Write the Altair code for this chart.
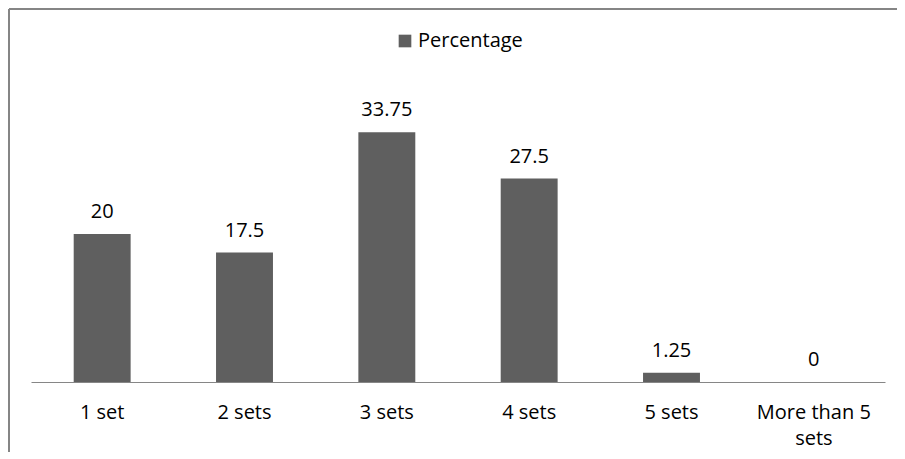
import altair as alt
import pandas as pd

categories = ["1 set", "2 sets", "3 sets", "4 sets", "5 sets", "More than 5 sets"]
percentages = [20, 17.5, 33.75, 27.5, 1.25, 0]
series_name = "Percentage"

df = pd.DataFrame({
    "category": categories,
    "value": percentages,
    "series": [series_name] * len(categories),
})

FONT = "Open Sans"
BAR = "#5f5f5f"

x_enc = alt.X(
    "category:N",
    sort=categories,
    scale=alt.Scale(paddingInner=0.6, paddingOuter=0.3),
    axis=alt.Axis(
        title=None,
        labelAngle=0,
        ticks=False,
        domainColor="#868686",
        domainWidth=1,
        labelFont=FONT,
        labelFontSize=20,
        labelColor="#000000",
        labelBaseline="alphabetic",
        labelPadding=36,
        labelLineHeight=26,
        labelLimit=300,
        labelExpr="datum.label == 'More than 5 sets' ? ['More than 5', 'sets'] : datum.label",
    ),
)
y_enc = alt.Y("value:Q", scale=alt.Scale(domain=[0, 40]), axis=None)

bars = alt.Chart(df).mark_bar().encode(
    x=x_enc,
    y=y_enc,
    color=alt.Color(
        "series:N",
        scale=alt.Scale(range=[BAR]),
        legend=alt.Legend(
            title=None,
            orient="none",
            legendX=364,
            legendY=-55,
            symbolType="square",
            symbolSize=160,
            symbolStrokeWidth=0,
            labelFont=FONT,
            labelFontSize=20,
            labelColor="#000000",
            labelOffset=3,
        ),
    ),
)

labels = alt.Chart(df).mark_text(
    dy=-16, baseline="alphabetic", font=FONT, fontSize=20, color="#000000"
).encode(
    x=alt.X("category:N", sort=categories),
    y=y_enc,
    text=alt.Text("value:Q", format="~g"),
)

frame_top = alt.Chart(df).mark_rule(stroke="#858585", strokeWidth=2).encode(
    x=alt.value(-22), x2=alt.value(950), y=alt.value(-77)
)
frame_left = alt.Chart(df).mark_rule(stroke="#858585", strokeWidth=2).encode(
    x=alt.value(-22), y=alt.value(-77), y2=alt.value(500)
)

chart = alt.layer(frame_top, frame_left, bars, labels).properties(
    width=854,
    height=296,
    padding={"left": 23, "top": 78, "right": 12, "bottom": 70},
    autosize=alt.AutoSizeParams(type="none"),
    background="white",
).configure_view(strokeWidth=0, stroke="transparent")

chart.save("out.html", embed_options={"renderer": "svg", "actions": False})
